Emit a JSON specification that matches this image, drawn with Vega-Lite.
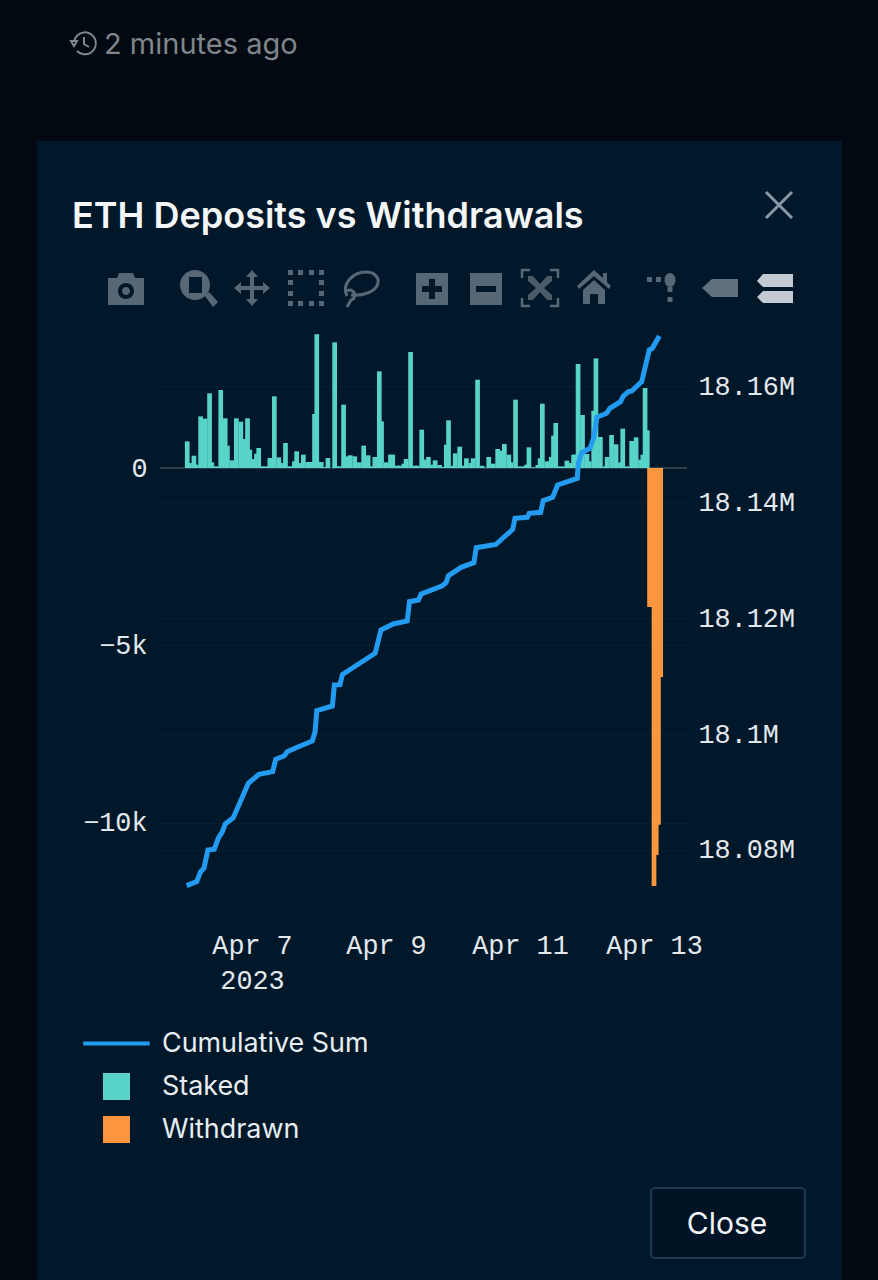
{
"$schema":"https://vega.github.io/schema/vega-lite/v6.json",
"width":527,"height":552,
"autosize":{"type":"none"},
"padding":{"left":160,"top":334,"right":191,"bottom":394},
"background":"#01182a",
"config":{"view":{"stroke":null}},
"data":{"values":[{"k":1}]},
"datasets":{
"flows":[
{"time":"2023-04-06T00:48:00Z","value":751,"series":"Staked"},{"time":"2023-04-06T01:36:00Z","value":140,"series":"Staked"},{"time":"2023-04-06T03:12:00Z","value":347,"series":"Staked"},{"time":"2023-04-06T04:00:00Z","value":95,"series":"Staked"},{"time":"2023-04-06T05:36:00Z","value":1455,"series":"Staked"},{"time":"2023-04-06T07:12:00Z","value":1390,"series":"Staked"},{"time":"2023-04-06T08:48:00Z","value":2103,"series":"Staked"},{"time":"2023-04-06T09:36:00Z","value":160,"series":"Staked"},{"time":"2023-04-06T11:12:00Z","value":50,"series":"Staked"},{"time":"2023-04-06T12:48:00Z","value":2197,"series":"Staked"},{"time":"2023-04-06T14:24:00Z","value":1400,"series":"Staked"},{"time":"2023-04-06T15:12:00Z","value":630,"series":"Staked"},{"time":"2023-04-06T16:48:00Z","value":216,"series":"Staked"},{"time":"2023-04-06T18:24:00Z","value":1400,"series":"Staked"},{"time":"2023-04-06T20:00:00Z","value":1305,"series":"Staked"},{"time":"2023-04-06T21:36:00Z","value":817,"series":"Staked"},{"time":"2023-04-06T22:24:00Z","value":1400,"series":"Staked"},{"time":"2023-04-06T23:12:00Z","value":516,"series":"Staked"},
{"time":"2023-04-07T00:48:00Z","value":254,"series":"Staked"},{"time":"2023-04-07T01:36:00Z","value":404,"series":"Staked"},{"time":"2023-04-07T02:24:00Z","value":563,"series":"Staked"},{"time":"2023-04-07T04:00:00Z","value":50,"series":"Staked"},{"time":"2023-04-07T05:36:00Z","value":50,"series":"Staked"},{"time":"2023-04-07T06:24:00Z","value":282,"series":"Staked"},{"time":"2023-04-07T08:00:00Z","value":2019,"series":"Staked"},{"time":"2023-04-07T09:36:00Z","value":300,"series":"Staked"},{"time":"2023-04-07T11:12:00Z","value":140,"series":"Staked"},{"time":"2023-04-07T12:00:00Z","value":704,"series":"Staked"},{"time":"2023-04-07T13:36:00Z","value":50,"series":"Staked"},{"time":"2023-04-07T15:12:00Z","value":188,"series":"Staked"},{"time":"2023-04-07T16:00:00Z","value":470,"series":"Staked"},{"time":"2023-04-07T17:36:00Z","value":140,"series":"Staked"},{"time":"2023-04-07T18:24:00Z","value":376,"series":"Staked"},{"time":"2023-04-07T20:00:00Z","value":170,"series":"Staked"},{"time":"2023-04-07T21:36:00Z","value":170,"series":"Staked"},{"time":"2023-04-07T22:24:00Z","value":1521,"series":"Staked"},{"time":"2023-04-07T23:12:00Z","value":3766,"series":"Staked"},
{"time":"2023-04-08T00:48:00Z","value":170,"series":"Staked"},{"time":"2023-04-08T02:24:00Z","value":30,"series":"Staked"},{"time":"2023-04-08T03:12:00Z","value":282,"series":"Staked"},{"time":"2023-04-08T05:36:00Z","value":3540,"series":"Staked"},{"time":"2023-04-08T07:12:00Z","value":50,"series":"Staked"},{"time":"2023-04-08T08:48:00Z","value":1784,"series":"Staked"},{"time":"2023-04-08T09:36:00Z","value":329,"series":"Staked"},{"time":"2023-04-08T11:12:00Z","value":357,"series":"Staked"},{"time":"2023-04-08T12:48:00Z","value":329,"series":"Staked"},{"time":"2023-04-08T14:24:00Z","value":160,"series":"Staked"},{"time":"2023-04-08T16:00:00Z","value":630,"series":"Staked"},{"time":"2023-04-08T17:36:00Z","value":357,"series":"Staked"},{"time":"2023-04-08T18:24:00Z","value":50,"series":"Staked"},{"time":"2023-04-08T20:00:00Z","value":310,"series":"Staked"},{"time":"2023-04-08T21:36:00Z","value":2723,"series":"Staked"},{"time":"2023-04-08T22:24:00Z","value":1315,"series":"Staked"},
{"time":"2023-04-09T00:00:00Z","value":160,"series":"Staked"},{"time":"2023-04-09T01:36:00Z","value":376,"series":"Staked"},{"time":"2023-04-09T02:24:00Z","value":376,"series":"Staked"},{"time":"2023-04-09T04:00:00Z","value":65,"series":"Staked"},{"time":"2023-04-09T04:48:00Z","value":65,"series":"Staked"},{"time":"2023-04-09T06:24:00Z","value":122,"series":"Staked"},{"time":"2023-04-09T07:12:00Z","value":254,"series":"Staked"},{"time":"2023-04-09T08:48:00Z","value":3268,"series":"Staked"},{"time":"2023-04-09T10:24:00Z","value":65,"series":"Staked"},{"time":"2023-04-09T11:12:00Z","value":65,"series":"Staked"},{"time":"2023-04-09T12:48:00Z","value":1080,"series":"Staked"},{"time":"2023-04-09T13:36:00Z","value":235,"series":"Staked"},{"time":"2023-04-09T15:12:00Z","value":310,"series":"Staked"},{"time":"2023-04-09T16:48:00Z","value":94,"series":"Staked"},{"time":"2023-04-09T17:36:00Z","value":216,"series":"Staked"},{"time":"2023-04-09T19:12:00Z","value":85,"series":"Staked"},{"time":"2023-04-09T20:48:00Z","value":30,"series":"Staked"},{"time":"2023-04-09T21:36:00Z","value":657,"series":"Staked"},{"time":"2023-04-09T22:24:00Z","value":1343,"series":"Staked"},
{"time":"2023-04-10T00:00:00Z","value":65,"series":"Staked"},{"time":"2023-04-10T00:48:00Z","value":413,"series":"Staked"},{"time":"2023-04-10T02:24:00Z","value":600,"series":"Staked"},{"time":"2023-04-10T04:00:00Z","value":65,"series":"Staked"},{"time":"2023-04-10T04:48:00Z","value":272,"series":"Staked"},{"time":"2023-04-10T06:24:00Z","value":140,"series":"Staked"},{"time":"2023-04-10T07:12:00Z","value":272,"series":"Staked"},{"time":"2023-04-10T08:48:00Z","value":2488,"series":"Staked"},{"time":"2023-04-10T10:24:00Z","value":65,"series":"Staked"},{"time":"2023-04-10T12:00:00Z","value":10,"series":"Staked"},{"time":"2023-04-10T12:48:00Z","value":310,"series":"Staked"},{"time":"2023-04-10T13:36:00Z","value":47,"series":"Staked"},{"time":"2023-04-10T14:24:00Z","value":122,"series":"Staked"},{"time":"2023-04-10T16:00:00Z","value":535,"series":"Staked"},{"time":"2023-04-10T17:36:00Z","value":488,"series":"Staked"},{"time":"2023-04-10T18:24:00Z","value":676,"series":"Staked"},{"time":"2023-04-10T20:00:00Z","value":376,"series":"Staked"},{"time":"2023-04-10T20:48:00Z","value":160,"series":"Staked"},{"time":"2023-04-10T22:24:00Z","value":1925,"series":"Staked"},
{"time":"2023-04-11T00:00:00Z","value":47,"series":"Staked"},{"time":"2023-04-11T01:36:00Z","value":47,"series":"Staked"},{"time":"2023-04-11T02:24:00Z","value":94,"series":"Staked"},{"time":"2023-04-11T03:12:00Z","value":582,"series":"Staked"},{"time":"2023-04-11T04:48:00Z","value":20,"series":"Staked"},{"time":"2023-04-11T06:24:00Z","value":85,"series":"Staked"},{"time":"2023-04-11T07:12:00Z","value":272,"series":"Staked"},{"time":"2023-04-11T08:00:00Z","value":1812,"series":"Staked"},{"time":"2023-04-11T09:36:00Z","value":188,"series":"Staked"},{"time":"2023-04-11T10:24:00Z","value":47,"series":"Staked"},{"time":"2023-04-11T11:12:00Z","value":310,"series":"Staked"},{"time":"2023-04-11T12:00:00Z","value":911,"series":"Staked"},{"time":"2023-04-11T12:48:00Z","value":1268,"series":"Staked"},{"time":"2023-04-11T14:24:00Z","value":47,"series":"Staked"},{"time":"2023-04-11T16:00:00Z","value":47,"series":"Staked"},{"time":"2023-04-11T16:48:00Z","value":207,"series":"Staked"},{"time":"2023-04-11T18:24:00Z","value":140,"series":"Staked"},{"time":"2023-04-11T19:12:00Z","value":376,"series":"Staked"},{"time":"2023-04-11T20:00:00Z","value":376,"series":"Staked"},{"time":"2023-04-11T20:48:00Z","value":2930,"series":"Staked"},{"time":"2023-04-11T22:24:00Z","value":1493,"series":"Staked"},
{"time":"2023-04-12T00:00:00Z","value":394,"series":"Staked"},{"time":"2023-04-12T00:48:00Z","value":188,"series":"Staked"},{"time":"2023-04-12T02:24:00Z","value":1615,"series":"Staked"},{"time":"2023-04-12T03:12:00Z","value":3089,"series":"Staked"},{"time":"2023-04-12T04:48:00Z","value":873,"series":"Staked"},{"time":"2023-04-12T06:24:00Z","value":47,"series":"Staked"},{"time":"2023-04-12T07:12:00Z","value":310,"series":"Staked"},{"time":"2023-04-12T08:48:00Z","value":930,"series":"Staked"},{"time":"2023-04-12T10:24:00Z","value":667,"series":"Staked"},{"time":"2023-04-12T12:00:00Z","value":160,"series":"Staked"},{"time":"2023-04-12T12:48:00Z","value":1108,"series":"Staked"},{"time":"2023-04-12T14:24:00Z","value":47,"series":"Staked"},{"time":"2023-04-12T16:00:00Z","value":761,"series":"Staked"},{"time":"2023-04-12T17:36:00Z","value":864,"series":"Staked"},{"time":"2023-04-12T19:12:00Z","value":235,"series":"Staked"},{"time":"2023-04-12T20:00:00Z","value":376,"series":"Staked"},{"time":"2023-04-12T20:48:00Z","value":2254,"series":"Staked"},{"time":"2023-04-12T21:36:00Z","value":1061,"series":"Staked"},
{"time":"2023-04-12T22:24:00Z","value":-3915,"series":"Withdrawn"},{"time":"2023-04-12T23:12:00Z","value":-3915,"series":"Withdrawn"},{"time":"2023-04-13T00:00:00Z","value":-11775,"series":"Withdrawn"},{"time":"2023-04-13T00:48:00Z","value":-10900,"series":"Withdrawn"},{"time":"2023-04-13T01:36:00Z","value":-10050,"series":"Withdrawn"},{"time":"2023-04-13T02:24:00Z","value":-5890,"series":"Withdrawn"}
],
"cumulative":[
{"time":"2023-04-06T00:36:00Z","total":18073847,"series":"Cumulative Sum"},{"time":"2023-04-06T04:12:00Z","total":18074537,"series":"Cumulative Sum"},{"time":"2023-04-06T05:36:00Z","total":18076262,"series":"Cumulative Sum"},{"time":"2023-04-06T06:48:00Z","total":18076848,"series":"Cumulative Sum"},{"time":"2023-04-06T08:12:00Z","total":18080002,"series":"Cumulative Sum"},{"time":"2023-04-06T10:30:00Z","total":18080123,"series":"Cumulative Sum"},{"time":"2023-04-06T11:54:00Z","total":18082019,"series":"Cumulative Sum"},{"time":"2023-04-06T13:24:00Z","total":18083156,"series":"Cumulative Sum"},{"time":"2023-04-06T14:24:00Z","total":18084484,"series":"Cumulative Sum"},{"time":"2023-04-06T17:18:00Z","total":18085571,"series":"Cumulative Sum"},{"time":"2023-04-06T22:42:00Z","total":18091502,"series":"Cumulative Sum"},{"time":"2023-04-07T02:30:00Z","total":18093053,"series":"Cumulative Sum"},{"time":"2023-04-07T07:24:00Z","total":18093501,"series":"Cumulative Sum"},{"time":"2023-04-07T08:30:00Z","total":18095639,"series":"Cumulative Sum"},{"time":"2023-04-07T11:36:00Z","total":18096260,"series":"Cumulative Sum"},{"time":"2023-04-07T12:36:00Z","total":18096950,"series":"Cumulative Sum"},{"time":"2023-04-07T15:48:00Z","total":18097639,"series":"Cumulative Sum"},{"time":"2023-04-07T21:36:00Z","total":18098794,"series":"Cumulative Sum"},{"time":"2023-04-07T22:36:00Z","total":18100398,"series":"Cumulative Sum"},{"time":"2023-04-07T23:12:00Z","total":18104019,"series":"Cumulative Sum"},{"time":"2023-04-08T04:48:00Z","total":18104829,"series":"Cumulative Sum"},{"time":"2023-04-08T05:30:00Z","total":18108449,"series":"Cumulative Sum"},{"time":"2023-04-08T07:30:00Z","total":18108500,"series":"Cumulative Sum"},{"time":"2023-04-08T08:24:00Z","total":18110260,"series":"Cumulative Sum"},{"time":"2023-04-08T20:06:00Z","total":18113915,"series":"Cumulative Sum"},{"time":"2023-04-08T22:12:00Z","total":18117932,"series":"Cumulative Sum"},{"time":"2023-04-09T02:36:00Z","total":18118966,"series":"Cumulative Sum"},{"time":"2023-04-09T07:36:00Z","total":18119484,"series":"Cumulative Sum"},{"time":"2023-04-09T08:24:00Z","total":18122811,"series":"Cumulative Sum"},{"time":"2023-04-09T11:36:00Z","total":18123104,"series":"Cumulative Sum"},{"time":"2023-04-09T12:36:00Z","total":18124139,"series":"Cumulative Sum"},{"time":"2023-04-09T20:00:00Z","total":18125518,"series":"Cumulative Sum"},{"time":"2023-04-09T21:30:00Z","total":18126087,"series":"Cumulative Sum"},{"time":"2023-04-09T22:24:00Z","total":18127294,"series":"Cumulative Sum"},{"time":"2023-04-10T02:54:00Z","total":18128742,"series":"Cumulative Sum"},{"time":"2023-04-10T07:30:00Z","total":18129535,"series":"Cumulative Sum"},{"time":"2023-04-10T08:18:00Z","total":18132121,"series":"Cumulative Sum"},{"time":"2023-04-10T15:18:00Z","total":18132673,"series":"Cumulative Sum"},{"time":"2023-04-10T21:24:00Z","total":18135294,"series":"Cumulative Sum"},{"time":"2023-04-10T22:12:00Z","total":18137190,"series":"Cumulative Sum"},{"time":"2023-04-11T02:36:00Z","total":18137363,"series":"Cumulative Sum"},{"time":"2023-04-11T03:18:00Z","total":18138052,"series":"Cumulative Sum"},{"time":"2023-04-11T07:24:00Z","total":18138225,"series":"Cumulative Sum"},{"time":"2023-04-11T08:18:00Z","total":18140225,"series":"Cumulative Sum"},{"time":"2023-04-11T11:42:00Z","total":18140811,"series":"Cumulative Sum"},{"time":"2023-04-11T13:30:00Z","total":18142931,"series":"Cumulative Sum"},{"time":"2023-04-11T20:30:00Z","total":18144086,"series":"Cumulative Sum"},{"time":"2023-04-11T20:54:00Z","total":18146673,"series":"Cumulative Sum"},{"time":"2023-04-11T22:06:00Z","total":18148500,"series":"Cumulative Sum"},{"time":"2023-04-12T01:06:00Z","total":18149259,"series":"Cumulative Sum"},{"time":"2023-04-12T02:30:00Z","total":18151259,"series":"Cumulative Sum"},{"time":"2023-04-12T03:30:00Z","total":18154604,"series":"Cumulative Sum"},{"time":"2023-04-12T07:00:00Z","total":18155293,"series":"Cumulative Sum"},{"time":"2023-04-12T08:12:00Z","total":18156155,"series":"Cumulative Sum"},{"time":"2023-04-12T12:00:00Z","total":18157293,"series":"Cumulative Sum"},{"time":"2023-04-12T13:00:00Z","total":18158276,"series":"Cumulative Sum"},{"time":"2023-04-12T14:48:00Z","total":18159017,"series":"Cumulative Sum"},{"time":"2023-04-12T16:00:00Z","total":18159138,"series":"Cumulative Sum"},{"time":"2023-04-12T19:36:00Z","total":18160741,"series":"Cumulative Sum"},{"time":"2023-04-12T22:18:00Z","total":18166207,"series":"Cumulative Sum"},{"time":"2023-04-12T23:24:00Z","total":18166500,"series":"Cumulative Sum"},{"time":"2023-04-13T01:54:00Z","total":18168621,"series":"Cumulative Sum"}
]
},
"layer":[
{"mark":{"type":"rect","color":"#020910"},"encoding":{"x":{"value":-160},"x2":{"value":718},"y":{"value":-334},"y2":{"value":-193}}},
{"mark":{"type":"rect","color":"#020910"},"encoding":{"x":{"value":-160},"x2":{"value":-123},"y":{"value":-193},"y2":{"value":946}}},
{"mark":{"type":"rect","color":"#020910"},"encoding":{"x":{"value":682},"x2":{"value":718},"y":{"value":-193},"y2":{"value":946}}},
{"mark":{"type":"rule","color":"#3b4853","strokeWidth":1.5},"encoding":{"y":{"datum":0,"scale":{"domain":[-11775,3775],"nice":false,"zero":false},"axis":null}}},
{"data":{"name":"flows"},"mark":{"type":"bar","size":4.7},
"encoding":{
"x":{"field":"time","type":"temporal","title":null,
"scale":{"type":"utc","padding":0,"domain":[1680706962000,1681386552000]},
"axis":{"orient":"bottom","values":[1680825600000,1680998400000,1681171200000,1681344000000],"labelExpr":"utcFormat(datum.value,'%b %-d')=='Apr 7' ? ['Apr 7','2023'] : utcFormat(datum.value,'%b %-d')","grid":false,"domain":false,"ticks":false,"labelPadding":46,"labelFont":"Liberation Mono","labelFontSize":26.8,"labelColor":"#e3e9ed","labelLineHeight":35,"labelOverlap":false,"labelBound":false,"labelFlush":false}},
"y":{"field":"value","type":"quantitative","title":null,"stack":null,
"scale":{"domain":[-11775,3775],"nice":false,"zero":false},
"axis":{"orient":"left","values":[-10000,-5000,0],"format":"~s","labelExpr":"datum.value==0 ? '0' : datum.label","grid":true,"gridColor":"#07202f","gridWidth":1,"domain":false,"ticks":false,"labelPadding":13,"labelFont":"Liberation Mono","labelFontSize":26.8,"labelColor":"#e3e9ed"}},
"color":{"field":"series","type":"nominal","title":null,
"scale":{"domain":["Cumulative Sum","Staked","Withdrawn"],"range":["#229bf0","#57d3c8","#fb963f"]},
"legend":{"orient":"none","legendX":-57,"legendY":696,"title":null,"symbolSize":729,"symbolStrokeWidth":0,"rowPadding":15,"labelOffset":32,"labelFont":"Inter","labelFontSize":26.9,"labelColor":"#e8eef2","labelLimit":400,
"encode":{"symbols":{"update":{"shape":{"signal":"datum.value=='Cumulative Sum' ? 'M-2.46,-0.14H2.46V0.14H-2.46Z' : 'square'"},"fill":{"signal":"datum.value=='Cumulative Sum' ? '#229bf0' : datum.value=='Staked' ? '#57d3c8' : '#fb963f'"},"fillOpacity":{"value":1},"opacity":{"value":1}}}}}}
}},
{"data":{"name":"cumulative"},"mark":{"type":"line","strokeWidth":5,"strokeJoin":"miter"},
"encoding":{
"x":{"field":"time","type":"temporal","title":null,
"scale":{"type":"utc","padding":0,"domain":[1680706962000,1681386552000]},
"axis":{"orient":"bottom","values":[1680825600000,1680998400000,1681171200000,1681344000000],"labelExpr":"utcFormat(datum.value,'%b %-d')=='Apr 7' ? ['Apr 7','2023'] : utcFormat(datum.value,'%b %-d')","grid":false,"domain":false,"ticks":false,"labelPadding":46,"labelFont":"Liberation Mono","labelFontSize":26.8,"labelColor":"#e3e9ed","labelLineHeight":35,"labelOverlap":false,"labelBound":false,"labelFlush":false}},
"y":{"field":"total","type":"quantitative","title":null,
"scale":{"domain":[18073793,18168966],"nice":false,"zero":false},
"axis":{"orient":"right","values":[18080000,18100000,18120000,18140000,18160000],"format":".5~s","grid":true,"gridColor":"#07202f","gridWidth":1,"domain":false,"ticks":false,"labelPadding":11,"labelFont":"Liberation Mono","labelFontSize":26.8,"labelColor":"#e3e9ed"}},
"color":{"field":"series","type":"nominal"}
}},
{"mark":{"type":"text","text":"2 minutes ago","font":"Inter","fontSize":29,"color":"#7f868c","align":"left","baseline":"alphabetic"},"encoding":{"x":{"value":-56},"y":{"value":-280}}},
{"mark":{"type":"text","text":"ETH Deposits vs Withdrawals","font":"Inter","fontWeight":600,"fontSize":36,"color":"#f4f6f8","align":"left","baseline":"alphabetic"},"encoding":{"x":{"value":-88},"y":{"value":-106}}},
{"mark":{"type":"rect","fill":"#011425","stroke":"#1d3a50","strokeWidth":2,"cornerRadius":4},"encoding":{"x":{"value":491},"x2":{"value":645},"y":{"value":854},"y2":{"value":924}}},
{"mark":{"type":"text","text":"Close","font":"Inter","fontSize":30,"color":"#f2f5f7","align":"center","baseline":"alphabetic"},"encoding":{"x":{"value":567},"y":{"value":900}}},
{"mark":{"type":"point","shape":"M-13,-2H-7L-10,3ZM-10,-1A11,11 0 1 1 -7,8M0,-6V1L5,4","size":4,"filled":false,"opacity":1,"strokeWidth":2,"color":"#7f868c"},"encoding":{"x":{"value":-76},"y":{"value":-291}}},
{"mark":{"type":"point","shape":"M-13,-13L13,13M13,-13L-13,13","size":4,"filled":false,"opacity":1,"strokeWidth":3,"color":"#8a97a5"},"encoding":{"x":{"value":619},"y":{"value":-129}}},
{"mark":{"type":"point","shape":"M-18,-11H-9L-7,-16H7L9,-11H18V16H-18ZM0,-6A8,8 0 1 0 0,10A8,8 0 1 0 0,-6ZM0,-2A4,4 0 1 1 0,6A4,4 0 1 1 0,-2Z","size":4,"filled":true,"opacity":1,"color":"#566775"},"encoding":{"x":{"value":-34},"y":{"value":-45}}},
{"mark":{"type":"point","shape":"M-2,-18A15,15 0 1 1 -2,12A15,15 0 1 1 -2,-18ZM-8,-11V5H5V-11ZM8,8L12,4L21,14L16,19Z","size":4,"filled":true,"opacity":1,"color":"#566775"},"encoding":{"x":{"value":37},"y":{"value":-46}}},
{"mark":{"type":"point","shape":"M0,-18L6,-11H2V-2H11V-6L18,0L11,6V2H2V11H6L0,18L-6,11H-2V2H-11V6L-18,0L-11,-6V-2H-2V-11H-6Z","size":4,"filled":true,"opacity":1,"color":"#566775"},"encoding":{"x":{"value":92},"y":{"value":-46}}},
{"mark":{"type":"point","shape":"M-18,-18h5v5h-5zM-8,-18h5v5h-5zM3,-18h5v5h-5zM13,-18h5v5h-5zM-18,13h5v5h-5zM-8,13h5v5h-5zM3,13h5v5h-5zM13,13h5v5h-5zM-18,-8h5v5h-5zM-18,3h5v5h-5zM13,-8h5v5h-5zM13,3h5v5h-5z","size":4,"filled":true,"opacity":1,"color":"#566775"},"encoding":{"x":{"value":146},"y":{"value":-46}}},
{"mark":{"type":"point","shape":"M-14,8C-20,-4 -8,-16 5,-16C14,-16 18,-10 17,-5C15,4 2,8 -10,7M-14,3A5,5 0 1 1 -10,12L-14,19","size":4,"filled":false,"opacity":1,"strokeWidth":3,"color":"#566775"},"encoding":{"x":{"value":201},"y":{"value":-46}}},
{"mark":{"type":"point","shape":"M-16,-16H16V16H-16ZM-3,-10V-3H-10V3H-3V10H3V3H10V-3H3V-10Z","size":4,"filled":true,"opacity":1,"color":"#566775"},"encoding":{"x":{"value":272},"y":{"value":-45}}},
{"mark":{"type":"point","shape":"M-16,-16H16V16H-16ZM-10,-3V3H10V-3Z","size":4,"filled":true,"opacity":1,"color":"#566775"},"encoding":{"x":{"value":326},"y":{"value":-45}}},
{"mark":{"type":"point","shape":"M-18,-10V-18H-10M10,-18H18V-10M18,10V18H10M-10,18H-18V10","size":4,"filled":false,"opacity":1,"strokeWidth":2.5,"color":"#566775"},"encoding":{"x":{"value":380},"y":{"value":-46}}},
{"mark":{"type":"point","shape":"M-12,-12H-7L0,-4L7,-12H12V-7L4,0L12,7V12H7L0,4L-7,12H-12V7L-4,0L-12,-7Z","size":4,"filled":true,"opacity":1,"color":"#4a5b69"},"encoding":{"x":{"value":380},"y":{"value":-46}}},
{"mark":{"type":"point","shape":"M0,-18L9,-10V-15H13V-6L17,-2L15,1L0,-12L-15,1L-17,-2ZM0,-8L11,2V16H4V6H-4V16H-11V2Z","size":4,"filled":true,"opacity":1,"color":"#566775"},"encoding":{"x":{"value":434},"y":{"value":-46}}},
{"mark":{"type":"point","shape":"M-23,-11h5v5h-5zM-14,-11h5v5h-5zM0,-15A5.5,7 0 1 1 0,-1A5.5,7 0 1 1 0,-15ZM-2.5,-1h5v5h-5zM-2.5,9h5v5h-5z","size":4,"filled":true,"opacity":1,"color":"#566775"},"encoding":{"x":{"value":510},"y":{"value":-46}}},
{"mark":{"type":"point","shape":"M-18,0L-8,-9H18V9H-8Z","size":4,"filled":true,"opacity":1,"color":"#5f6f7c"},"encoding":{"x":{"value":560},"y":{"value":-46}}},
{"mark":{"type":"point","shape":"M-18,-7L-12,-14H18V-1H-12ZM-18,9L-12,3H18V15H-12Z","size":4,"filled":true,"opacity":1,"color":"#c4cad2"},"encoding":{"x":{"value":615},"y":{"value":-46}}}
],
"resolve":{"scale":{"y":"independent"},"axis":{"y":"independent"}}
}
